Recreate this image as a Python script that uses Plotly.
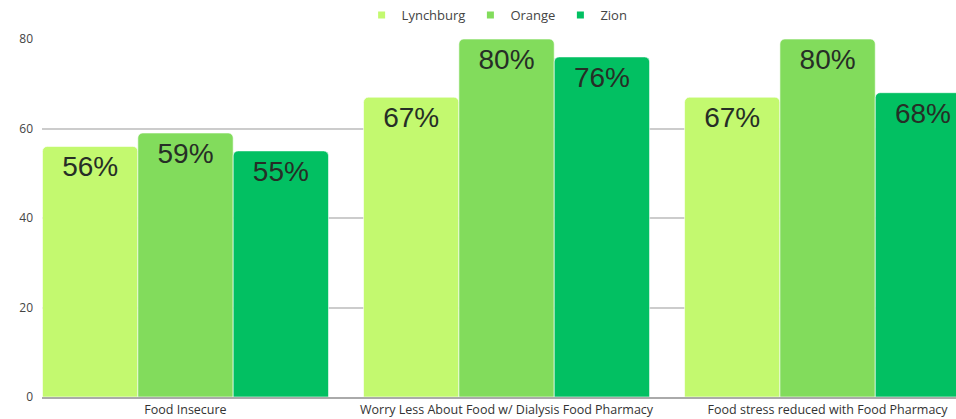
import plotly.graph_objects as go

categories = ["Food Insecure",
              "Worry Less About Food w/ Dialysis Food Pharmacy",
              "Food stress reduced with Food Pharmacy"]
series_names = ["Lynchburg", "Orange", "Zion"]
lynchburg = [56, 67, 67]
orange = [59, 80, 80]
zion = [55, 76, 68]
series_values = [lynchburg, orange, zion]
colors = ["#c3f96f", "#82dc5c", "#02c062"]
y_ticks = [0, 20, 40, 60, 80]

fig = go.Figure()
for name, vals, col in zip(series_names, series_values, colors):
    fig.add_trace(go.Bar(
        x=categories, y=vals, name=name,
        marker=dict(color=col, line=dict(color="rgba(255,255,255,0.6)", width=1)),
        text=[f"{v}%" for v in vals],
        textposition="inside", insidetextanchor="end",
        textfont=dict(family="Liberation Sans", size=28, color="#262e26"),
        textangle=0,
        showlegend=False,
    ))
    fig.add_trace(go.Scatter(
        x=[None], y=[None], mode="markers", name=name,
        marker=dict(symbol="square", size=7, color=col),
        showlegend=True,
    ))

fig.update_layout(
    width=956, height=419,
    margin=dict(l=42, r=0, t=39, b=22),
    paper_bgcolor="white", plot_bgcolor="white",
    barmode="group", bargap=0.109, bargroupgap=0, barcornerradius=5,
    font=dict(family="Open Sans", size=12, color="#444"),
    legend=dict(orientation="h", x=0.52, xanchor="center", xref="container",
                y=1.0, yanchor="top", yref="container",
                font=dict(size=13, color="#444"), itemwidth=30,
                bgcolor="rgba(0,0,0,0)"),
    xaxis=dict(range=[-0.447, 2.40], showgrid=False, ticks="",
               tickfont=dict(size=12.5, color="#333"),
               showline=True, linecolor="#aaa", linewidth=2),
    yaxis=dict(range=[0, 80], tickvals=y_ticks, showgrid=True,
               gridcolor="#cccccc", gridwidth=2, zeroline=False,
               tickfont=dict(size=12, color="#444"), ticklabelstandoff=8),
)

fig.write_html("out.html")
